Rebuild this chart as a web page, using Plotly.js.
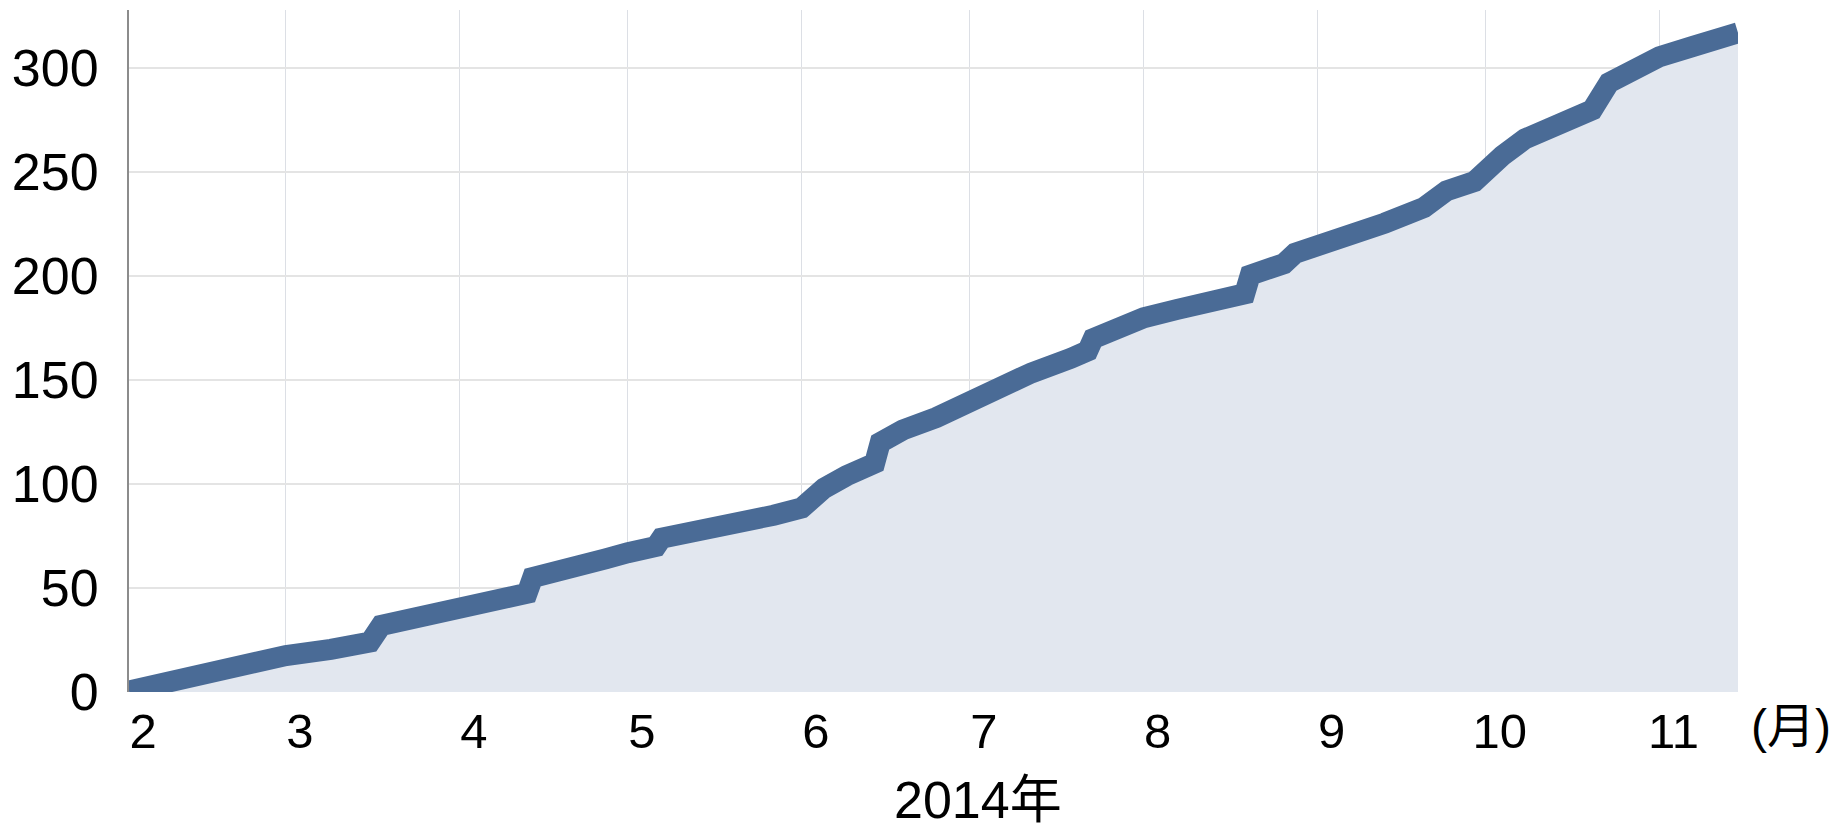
<!DOCTYPE html>
<html>
<head>
<meta charset="utf-8">
<script src="https://cdn.plot.ly/plotly-3.0.1.min.js"></script>
<style>
html,body{margin:0;padding:0;background:#fff;}
#chart{width:1844px;height:829px;}
</style>
</head>
<body>
<div id="chart"></div>
<script>
// Cumulative count, 2014
const dates = [
  '2014-02-01','2014-02-05','2014-02-08','2014-02-11','2014-02-18','2014-02-21','2014-02-24',
  '2014-03-01','2014-03-09','2014-03-15','2014-03-16','2014-03-18','2014-03-23','2014-03-25',
  '2014-04-01','2014-04-07','2014-04-13','2014-04-14','2014-04-19','2014-04-25','2014-04-27',
  '2014-05-01','2014-05-06','2014-05-07','2014-05-14','2014-05-23','2014-05-27',
  '2014-06-01','2014-06-05','2014-06-09','2014-06-14','2014-06-15','2014-06-19','2014-06-25',
  '2014-07-01','2014-07-06','2014-07-12','2014-07-19','2014-07-22','2014-07-23','2014-07-27',
  '2014-08-01','2014-08-07','2014-08-13','2014-08-19','2014-08-20','2014-08-26','2014-08-28',
  '2014-09-01','2014-09-07','2014-09-13','2014-09-20','2014-09-24','2014-09-29',
  '2014-10-01','2014-10-04','2014-10-08','2014-10-15','2014-10-20','2014-10-23','2014-10-29',
  '2014-11-01','2014-11-07','2014-11-15'
];
const counts = [
  0.5, 3, 4.5, 7.5, 11, 12, 14.5,
  17.5, 20.5, 23.5, 24, 32, 35, 38.5,
  41.5, 44, 47.5, 55, 57.5, 61, 64,
  67, 70, 74, 77, 82, 85,
  88.5, 98, 104, 110, 120, 126, 132,
  140, 147, 153.5, 160.5, 164, 170, 174.5,
  180, 184, 188, 191.5, 200.5, 206, 211,
  214, 220, 225.5, 233, 241, 245.5,
  251, 258, 266, 274, 280, 293, 302,
  305.5, 310.5, 317
];
const monthTicks = ['2014-02-01','2014-03-01','2014-04-01','2014-05-01','2014-06-01',
  '2014-07-01','2014-08-01','2014-09-01','2014-10-01','2014-11-01'];
const monthLabels = ['2','3','4','5','6','7','8','9','10','11'];
const yTicks = [0, 50, 100, 150, 200, 250, 300];
const xTitle = '2014年';
const unitLabel = '(月)';

const FONT = 'Liberation Sans, Arial, Noto Sans CJK JP, sans-serif';

const trace = {
  x: dates, y: counts, type: 'scatter', mode: 'lines',
  line: {color: '#4a6b96', width: 21, shape: 'linear'},
  fill: 'tozeroy', fillcolor: '#e2e7ef',
  hoverinfo: 'skip'
};

const layout = {
  width: 1844, height: 829,
  margin: {l: 129, r: 106, t: 10, b: 137},
  paper_bgcolor: '#ffffff', plot_bgcolor: '#ffffff',
  showlegend: false,
  font: {family: FONT, color: '#000'},
  xaxis: {
    type: 'date', range: ['2014-02-01', '2014-11-15'],
    tickvals: monthTicks, ticktext: monthLabels,
    tickfont: {size: 49, family: FONT, color: '#000'},
    showgrid: true, gridcolor: '#dcdfe5', gridwidth: 1,
    zeroline: false, showline: false, ticks: '',
    ticklabelshift: 14, ticklabelstandoff: 6
  },
  yaxis: {
    range: [0, 328], tickvals: yTicks,
    tickfont: {size: 52, family: FONT, color: '#000'},
    showgrid: true, gridcolor: '#e4e4e4', gridwidth: 2,
    zeroline: false, showline: true, linecolor: '#8c8c8c', linewidth: 2,
    ticks: '', ticklabelstandoff: 18
  },
  annotations: [
    {text: unitLabel, xref: 'paper', yref: 'paper', x: 1.033, y: -0.05,
     xanchor: 'center', yanchor: 'middle', showarrow: false,
     font: {size: 48, family: FONT, color: '#000'}},
    {text: xTitle, xref: 'paper', yref: 'paper', x: 0.5277, y: -0.158,
     xanchor: 'center', yanchor: 'middle', showarrow: false,
     font: {size: 52, family: FONT, color: '#000'}}
  ]
};

Plotly.newPlot('chart', [trace], layout, {displayModeBar: false, staticPlot: true});
</script>
</body>
</html>
